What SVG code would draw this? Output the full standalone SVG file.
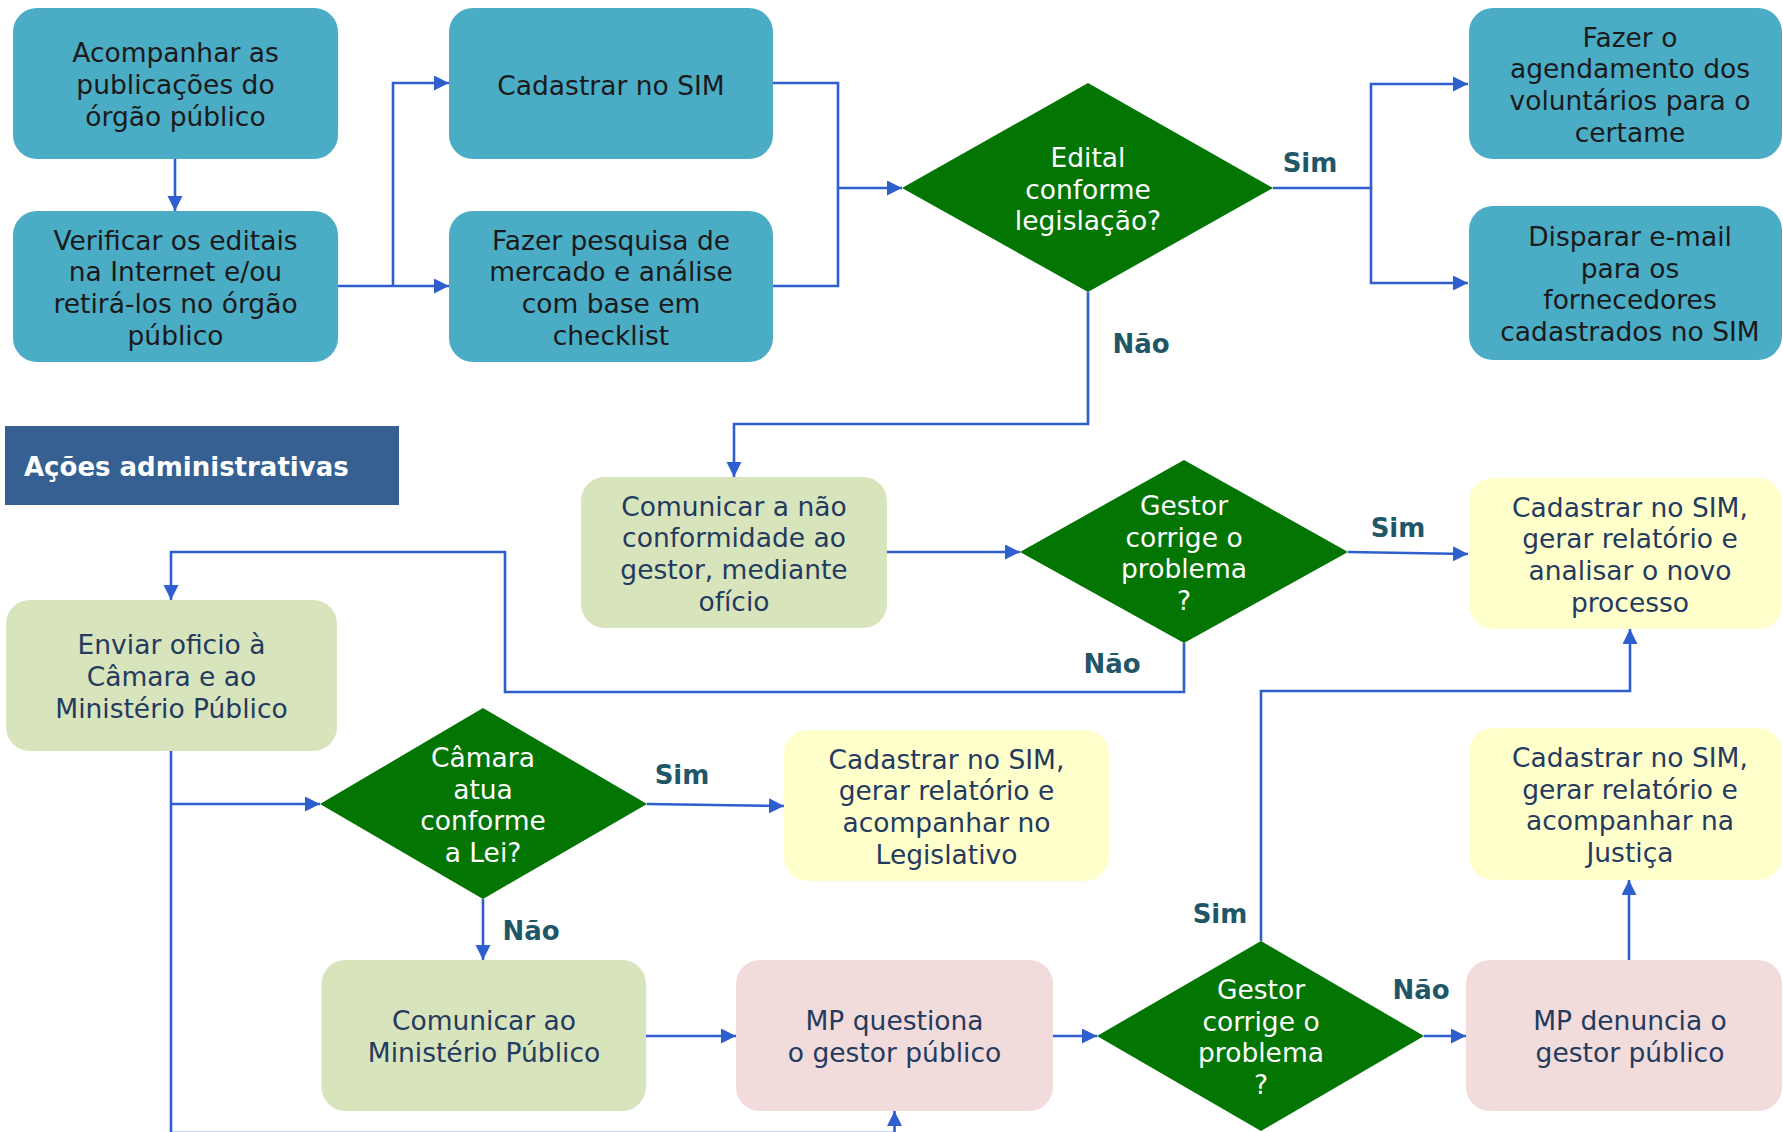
<svg xmlns="http://www.w3.org/2000/svg" width="1783" height="1132" viewBox="0 0 1783 1132">
<defs>
<marker id="ah" markerUnits="userSpaceOnUse" markerWidth="16" markerHeight="16" refX="15" refY="7.5" orient="auto" viewBox="0 0 16 16">
<path d="M0,0 L15,7.5 L0,15 z" fill="#2f5fcf"/>
</marker>
<style>
text{font-family:"DejaVu Sans",Verdana,sans-serif;font-size:26.5px;text-anchor:middle}
.teal{fill:#4bacc6}
.grn{fill:#d8e4bc}
.yel{fill:#ffffcc}
.pnk{fill:#f2dcdb}
.dia{fill:#037503}
.tk{fill:#1a1a1a}
.tn{fill:#243a5e}
.tw{fill:#ffffff}
.lbl{font-weight:bold;font-size:26px;fill:#1f5768}
.c{fill:none;stroke:#2f5fcf;stroke-width:2.6}
.a{marker-end:url(#ah)}
</style>
</defs>
<rect width="1783" height="1132" fill="#ffffff"/>

<g id="connectors">
<path class="c a" d="M175,159 V211"/>
<path class="c a" d="M338,286 H449"/>
<path class="c a" d="M393,286 V83 H449"/>
<path class="c" d="M773,83 H838 V286 H773"/>
<path class="c a" d="M838,188 H902"/>
<path class="c a" d="M1273,188 H1371 V84 H1468"/>
<path class="c a" d="M1371,188 V283 H1468"/>
<path class="c a" d="M1088,292 V424 H734 V477"/>
<path class="c a" d="M887,552 H1020"/>
<path class="c a" d="M1348,552 L1468,554"/>
<path class="c a" d="M1184,643 V692 H505 V552 H171 V600"/>
<path class="c a" d="M171,751 V1133 H894.5 V1111"/>
<path class="c a" d="M171,804 H320"/>
<path class="c a" d="M647,804 L784,806"/>
<path class="c a" d="M483,899 V960"/>
<path class="c a" d="M646,1036 H736"/>
<path class="c a" d="M1053,1036 H1097"/>
<path class="c a" d="M1424,1036 H1466"/>
<path class="c a" d="M1261,941 V691 H1630 V629"/>
<path class="c a" d="M1629,960 V880"/>
<text class="lbl" x="1310" y="172">Sim</text>
<text class="lbl" x="1141" y="353">Não</text>
<text class="lbl" x="1398" y="537">Sim</text>
<text class="lbl" x="1112" y="673">Não</text>
<text class="lbl" x="682" y="784">Sim</text>
<text class="lbl" x="531" y="940">Não</text>
<text class="lbl" x="1220" y="923">Sim</text>
<text class="lbl" x="1421" y="999">Não</text>
</g>

<g id="header">
<rect x="5" y="426" width="394" height="79" fill="#366092"/>
<text x="24" y="476" style="text-anchor:start;font-weight:bold;font-size:26px;fill:#ffffff">Ações administrativas</text>
</g>

<g id="n-acompanhar">
<rect class="teal" x="13" y="8" width="325" height="151" rx="24"/>
<text class="tk" x="175.5" y="62.3">Acompanhar as</text>
<text class="tk" x="175.5" y="94">publicações do</text>
<text class="tk" x="175.5" y="125.7">órgão público</text>
</g>

<g id="n-verificar">
<rect class="teal" x="13" y="211" width="325" height="151" rx="24"/>
<text class="tk" x="175.5" y="249.5">Verificar os editais</text>
<text class="tk" x="175.5" y="281.2">na Internet e/ou</text>
<text class="tk" x="175.5" y="312.9">retirá-los no órgão</text>
<text class="tk" x="175.5" y="344.6">público</text>
</g>

<g id="n-cadastrar">
<rect class="teal" x="449" y="8" width="324" height="151" rx="24"/>
<text class="tk" x="611" y="94.5">Cadastrar no SIM</text>
</g>

<g id="n-pesquisa">
<rect class="teal" x="449" y="211" width="324" height="151" rx="24"/>
<text class="tk" x="611" y="249.5">Fazer pesquisa de</text>
<text class="tk" x="611" y="281.2">mercado e análise</text>
<text class="tk" x="611" y="312.9">com base em</text>
<text class="tk" x="611" y="344.6">checklist</text>
</g>

<g id="n-edital">
<polygon class="dia" points="1088,83 1273,188 1088,292 902,188"/>
<text class="tw" x="1088" y="166.8">Edital</text>
<text class="tw" x="1088" y="198.5">conforme</text>
<text class="tw" x="1088" y="230.2">legislação?</text>
</g>

<g id="n-agendamento">
<rect class="teal" x="1469" y="8" width="313" height="151" rx="24"/>
<text class="tk" x="1630" y="46.5">Fazer o</text>
<text class="tk" x="1630" y="78.2">agendamento dos</text>
<text class="tk" x="1630" y="109.9">voluntários para o</text>
<text class="tk" x="1630" y="141.6">certame</text>
</g>

<g id="n-disparar">
<rect class="teal" x="1469" y="206" width="313" height="154" rx="24"/>
<text class="tk" x="1630" y="246">Disparar e-mail</text>
<text class="tk" x="1630" y="277.7">para os</text>
<text class="tk" x="1630" y="309.4">fornecedores</text>
<text class="tk" x="1630" y="341.1">cadastrados no SIM</text>
</g>

<g id="n-comunicar-nao">
<rect class="grn" x="581" y="477" width="306" height="151" rx="24"/>
<text class="tn" x="734" y="515.5">Comunicar a não</text>
<text class="tn" x="734" y="547.2">conformidade ao</text>
<text class="tn" x="734" y="578.9">gestor, mediante</text>
<text class="tn" x="734" y="610.6">ofício</text>
</g>

<g id="n-gestor1">
<polygon class="dia" points="1184,460 1348,552 1184,643 1020,552"/>
<text class="tw" x="1184" y="515">Gestor</text>
<text class="tw" x="1184" y="546.7">corrige o</text>
<text class="tw" x="1184" y="578.4">problema</text>
<text class="tw" x="1184" y="610.1">?</text>
</g>

<g id="n-analisar">
<rect class="yel" x="1469" y="478" width="313" height="151" rx="24"/>
<text class="tn" x="1630" y="516.5">Cadastrar no SIM,</text>
<text class="tn" x="1630" y="548.2">gerar relatório e</text>
<text class="tn" x="1630" y="579.9">analisar o novo</text>
<text class="tn" x="1630" y="611.6">processo</text>
</g>

<g id="n-enviar">
<rect class="grn" x="6" y="600" width="331" height="151" rx="24"/>
<text class="tn" x="171.5" y="654.3">Enviar oficio à</text>
<text class="tn" x="171.5" y="686">Câmara e ao</text>
<text class="tn" x="171.5" y="717.7">Ministério Público</text>
</g>

<g id="n-camara">
<polygon class="dia" points="483,708 647,804 483,899 320,804"/>
<text class="tw" x="483" y="767">Câmara</text>
<text class="tw" x="483" y="798.7">atua</text>
<text class="tw" x="483" y="830.4">conforme</text>
<text class="tw" x="483" y="862.1">a Lei?</text>
</g>

<g id="n-legislativo">
<rect class="yel" x="784" y="730" width="325" height="151" rx="24"/>
<text class="tn" x="946.5" y="768.5">Cadastrar no SIM,</text>
<text class="tn" x="946.5" y="800.2">gerar relatório e</text>
<text class="tn" x="946.5" y="831.9">acompanhar no</text>
<text class="tn" x="946.5" y="863.6">Legislativo</text>
</g>

<g id="n-justica">
<rect class="yel" x="1469" y="728" width="313" height="152" rx="24"/>
<text class="tn" x="1630" y="767">Cadastrar no SIM,</text>
<text class="tn" x="1630" y="798.7">gerar relatório e</text>
<text class="tn" x="1630" y="830.4">acompanhar na</text>
<text class="tn" x="1630" y="862.1">Justiça</text>
</g>

<g id="n-comunicar-mp">
<rect class="grn" x="321.5" y="960" width="324.5" height="151" rx="24"/>
<text class="tn" x="484" y="1030.2">Comunicar ao</text>
<text class="tn" x="484" y="1061.9">Ministério Público</text>
</g>

<g id="n-mp-questiona">
<rect class="pnk" x="736" y="960" width="317" height="151" rx="24"/>
<text class="tn" x="894.5" y="1030.2">MP questiona</text>
<text class="tn" x="894.5" y="1061.9">o gestor público</text>
</g>

<g id="n-gestor2">
<polygon class="dia" points="1261,941 1424,1036 1261,1131 1097,1036"/>
<text class="tw" x="1261" y="999">Gestor</text>
<text class="tw" x="1261" y="1030.7">corrige o</text>
<text class="tw" x="1261" y="1062.4">problema</text>
<text class="tw" x="1261" y="1094.1">?</text>
</g>

<g id="n-mp-denuncia">
<rect class="pnk" x="1466" y="960" width="316" height="151" rx="24"/>
<text class="tn" x="1630" y="1030.2">MP denuncia o</text>
<text class="tn" x="1630" y="1061.9">gestor público</text>
</g>
</svg>
